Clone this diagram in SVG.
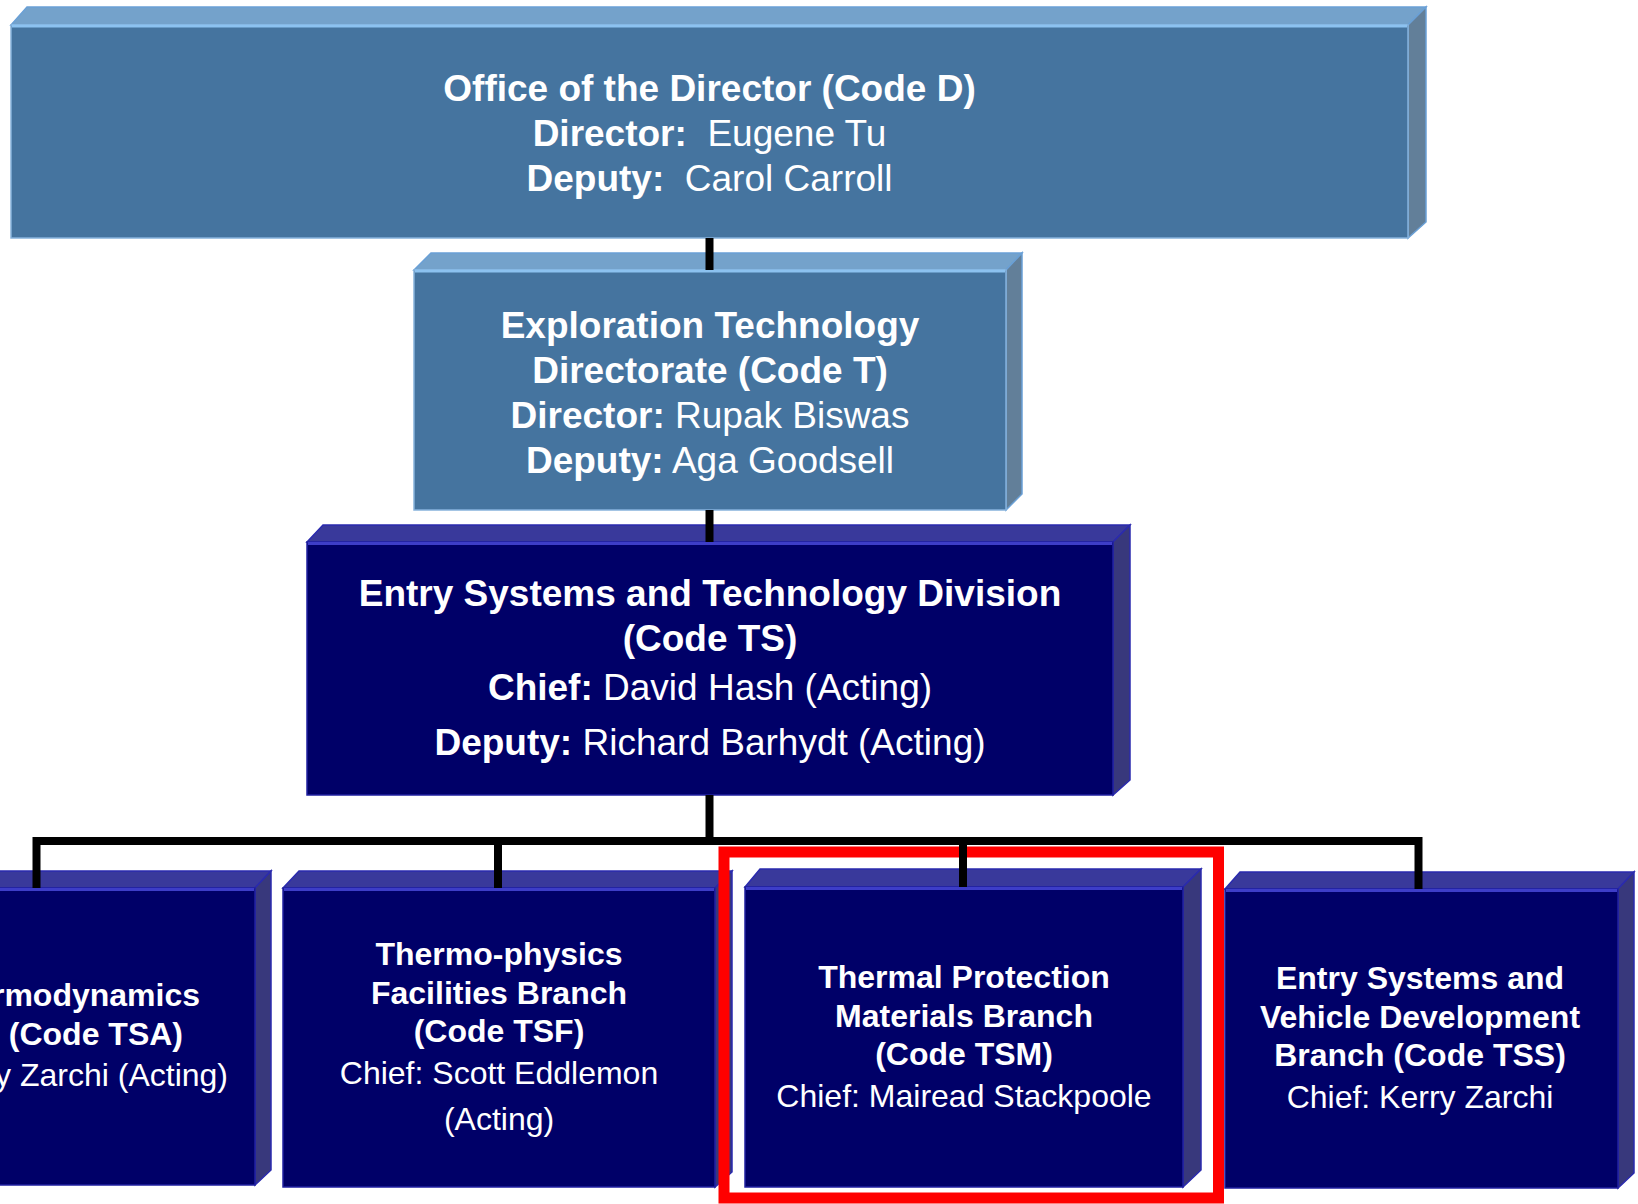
<svg xmlns="http://www.w3.org/2000/svg" width="1638" height="1204" viewBox="0 0 1638 1204">
<style>
.lt-top{fill:#74A2CB;stroke:#6AA0D6;stroke-width:1.5}
.lt-side{fill:#627F99;stroke:#6AA0D6;stroke-width:1.5}
.lt-front{fill:#45749F;stroke:#86B2DC;stroke-width:1.5}
.lt-hl{stroke:#8CC2F0;stroke-width:3}
.dk-top{fill:#39399B;stroke:#2A2AAE;stroke-width:1.5}
.dk-side{fill:#38387C;stroke:#2A2AAE;stroke-width:1.5}
.dk-front{fill:#000068;stroke:#2020A0;stroke-width:1.5}
.dk-hl{stroke:#3D3DC8;stroke-width:3}
.conn{stroke:#000;stroke-width:8;fill:none;stroke-linecap:butt}
text{font-family:"Liberation Sans",Arial,sans-serif;fill:#fff;text-anchor:middle;white-space:pre}
.big{font-size:37px}
.sm{font-size:32px}
.b{font-weight:bold}
.hi{fill:none;stroke:#FF0000;stroke-width:11}
</style>

<g id="office-director">
<polygon class="lt-top" points="11,25 27,7 1426,7 1408,25"/>
<polygon class="lt-side" points="1408,25 1426,7 1426,222 1408,238"/>
<rect class="lt-front" x="11" y="25" width="1397" height="213"/>
<line class="lt-hl" x1="12" y1="26" x2="1407" y2="26"/>
<text class="big b" x="709.5" y="101">Office of the Director (Code D)</text>
<text class="big" x="709.5" y="146"><tspan class="b">Director:</tspan>  Eugene Tu</text>
<text class="big" x="709.5" y="191"><tspan class="b">Deputy:</tspan>  Carol Carroll</text>
</g>

<g id="exploration-technology">
<polygon class="lt-top" points="414,270 431,253 1022,253 1006,270"/>
<polygon class="lt-side" points="1006,270 1022,253 1022,494 1006,510"/>
<rect class="lt-front" x="414" y="270" width="592" height="240"/>
<line class="lt-hl" x1="415" y1="271" x2="1005" y2="271"/>
<text class="big b" x="710" y="338">Exploration Technology</text>
<text class="big b" x="710" y="383">Directorate (Code T)</text>
<text class="big" x="710" y="428"><tspan class="b">Director:</tspan> Rupak Biswas</text>
<text class="big" x="710" y="473"><tspan class="b">Deputy:</tspan> Aga Goodsell</text>
</g>

<g id="entry-systems-division">
<polygon class="dk-top" points="307,542 323,525 1130,525 1113,542"/>
<polygon class="dk-side" points="1113,542 1130,525 1130,780 1113,795"/>
<rect class="dk-front" x="307" y="542" width="806" height="253"/>
<line class="dk-hl" x1="308" y1="543.5" x2="1112" y2="543.5"/>
<text class="big b" x="710" y="606">Entry Systems and Technology Division</text>
<text class="big b" x="710" y="651">(Code TS)</text>
<text class="big" x="710" y="700"><tspan class="b">Chief:</tspan> David Hash (Acting)</text>
<text class="big" x="710" y="755"><tspan class="b">Deputy:</tspan> Richard Barhydt (Acting)</text>
</g>

<g id="branch-tsa">
<polygon class="dk-top" points="-180,888 -164,871 271,871 255,888"/>
<polygon class="dk-side" points="255,888 271,871 271,1170 255,1185"/>
<rect class="dk-front" x="-180" y="888" width="435" height="297"/>
<line class="dk-hl" x1="0" y1="889.5" x2="254" y2="889.5"/>
<text class="sm b" x="200" y="1006" style="text-anchor:end">rmodynamics</text>
<text class="sm b" x="183" y="1045" style="text-anchor:end">(Code TSA)</text>
<text class="sm" x="228" y="1086" style="text-anchor:end">y Zarchi (Acting)</text>
</g>

<g id="branch-tsf">
<polygon class="dk-top" points="283,888 299,871 732,871 715,888"/>
<polygon class="dk-side" points="715,888 732,871 732,1172 715,1187"/>
<rect class="dk-front" x="283" y="888" width="432" height="299"/>
<line class="dk-hl" x1="284" y1="889.5" x2="714" y2="889.5"/>
<text class="sm b" x="499" y="965">Thermo-physics</text>
<text class="sm b" x="499" y="1004">Facilities Branch</text>
<text class="sm b" x="499" y="1042">(Code TSF)</text>
<text class="sm" x="499" y="1084">Chief: Scott Eddlemon</text>
<text class="sm" x="499" y="1130">(Acting)</text>
</g>

<g id="branch-tsm">
<polygon class="dk-top" points="745,887 760,869 1201,869 1183,887"/>
<polygon class="dk-side" points="1183,887 1201,869 1201,1170 1183,1187"/>
<rect class="dk-front" x="745" y="887" width="438" height="300"/>
<line class="dk-hl" x1="746" y1="888.5" x2="1182" y2="888.5"/>
<text class="sm b" x="964" y="988">Thermal Protection</text>
<text class="sm b" x="964" y="1027">Materials Branch</text>
<text class="sm b" x="964" y="1065">(Code TSM)</text>
<text class="sm" x="964" y="1107">Chief: Mairead Stackpoole</text>
</g>

<g id="branch-tss">
<polygon class="dk-top" points="1225,889 1240,872 1634,872 1618,889"/>
<polygon class="dk-side" points="1618,889 1634,872 1634,1173 1618,1188"/>
<rect class="dk-front" x="1225" y="889" width="393" height="299"/>
<line class="dk-hl" x1="1226" y1="890.5" x2="1617" y2="890.5"/>
<text class="sm b" x="1420" y="989">Entry Systems and</text>
<text class="sm b" x="1420" y="1028">Vehicle Development</text>
<text class="sm b" x="1420" y="1066">Branch (Code TSS)</text>
<text class="sm" x="1420" y="1108">Chief: Kerry Zarchi</text>
</g>

<g id="highlight-tsm">
<rect class="hi" x="724" y="852" width="494.5" height="346"/>
</g>

<g id="connectors">
<line class="conn" x1="709.5" y1="238" x2="709.5" y2="270"/>
<line class="conn" x1="709.5" y1="510" x2="709.5" y2="542"/>
<line class="conn" x1="709.5" y1="795" x2="709.5" y2="841"/>
<line class="conn" x1="33" y1="841" x2="1422" y2="841"/>
<line class="conn" x1="36.5" y1="837" x2="36.5" y2="888"/>
<line class="conn" x1="498" y1="837" x2="498" y2="888"/>
<line class="conn" x1="963" y1="837" x2="963" y2="887"/>
<line class="conn" x1="1418.5" y1="837" x2="1418.5" y2="889"/>
</g>
</svg>
